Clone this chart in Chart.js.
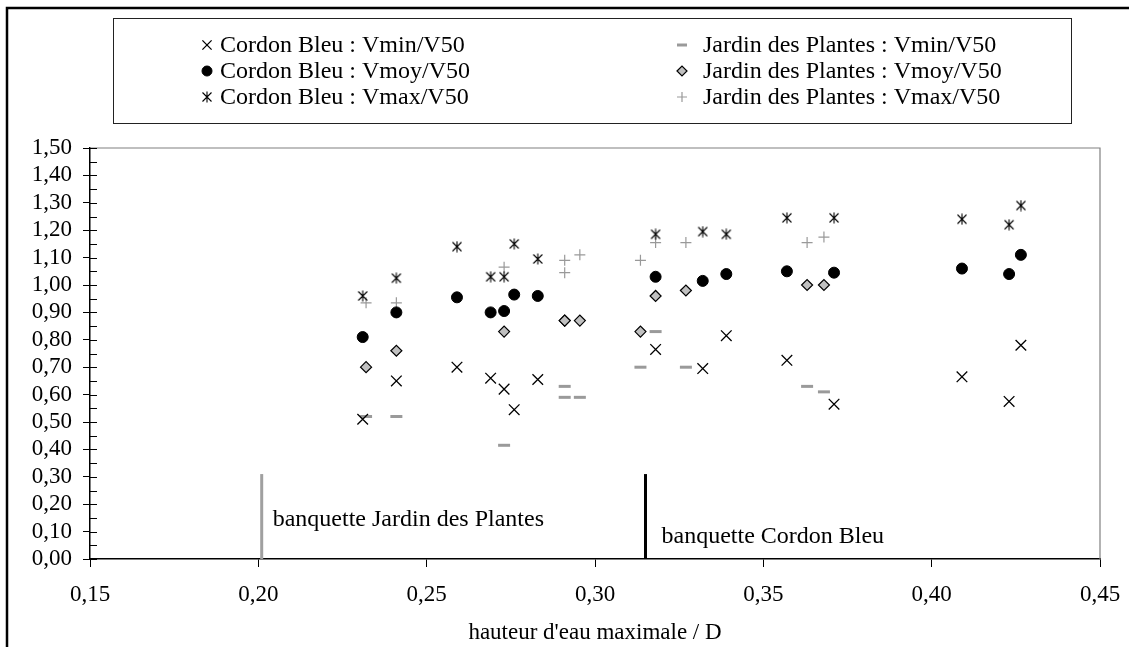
<!DOCTYPE html>
<html>
<head>
<meta charset="utf-8">
<script src="https://cdn.jsdelivr.net/npm/chart.js@4/dist/chart.umd.min.js"></script>
<style>
  body { margin: 0; background: #fff; }
</style>
</head>
<body>
<canvas id="chart" width="1129" height="647"></canvas>
<script>
// Cordon Bleu
const cbX   = [0.231, 0.241, 0.259, 0.269, 0.273, 0.276, 0.283, 0.318, 0.332, 0.339, 0.357, 0.371, 0.409, 0.423, 0.4265];
const cbMin = [0.51, 0.65, 0.70, 0.66, 0.62, 0.545, 0.655, 0.765, 0.695, 0.815, 0.725, 0.565, 0.665, 0.575, 0.78];
const cbMoy = [0.81, 0.90, 0.955, 0.90, 0.905, 0.965, 0.96, 1.03, 1.015, 1.04, 1.05, 1.045, 1.06, 1.04, 1.11];
const cbMax = [0.96, 1.025, 1.14, 1.03, 1.03, 1.15, 1.095, 1.185, 1.195, 1.185, 1.245, 1.245, 1.24, 1.22, 1.29];

// Jardin des Plantes
const jdpX   = [0.232, 0.241, 0.273, 0.291, 0.291, 0.2955, 0.3135, 0.318, 0.327, 0.363, 0.368];
const jdpMin = [0.52, 0.52, 0.415, 0.63, 0.59, 0.59, 0.70, 0.83, 0.70, 0.63, 0.61];
const jdpMoy = [0.70, 0.76, 0.83, 0.87, 0.87, 0.87, 0.83, 0.96, 0.98, 1.00, 1.00];
const jdpMax = [0.935, 0.935, 1.065, 1.09, 1.045, 1.11, 1.09, 1.155, 1.155, 1.155, 1.175];

// banquettes (vertical marks)
const banqJdpX = [0.201, 0.201];
const banqCbX  = [0.315, 0.315];
const banqY    = [0, 0.31];

const labels = [
  'Cordon Bleu : Vmin/V50', 'Cordon Bleu : Vmoy/V50', 'Cordon Bleu : Vmax/V50',
  'Jardin des Plantes : Vmin/V50', 'Jardin des Plantes : Vmoy/V50', 'Jardin des Plantes : Vmax/V50'
];

const pts = (xs, ys) => xs.map((x, i) => ({ x, y: ys[i] }));
const fmt = v => Number(v).toFixed(2).replace('.', ',');
const SERIF = '"Liberation Serif", "Times New Roman", serif';

function asterisk() {
  const c = document.createElement('canvas');
  c.width = 12; c.height = 12;
  const g = c.getContext('2d');
  g.strokeStyle = '#000';
  g.lineWidth = 1.1;
  g.beginPath();
  g.moveTo(6, 0.5); g.lineTo(6, 11.5);
  g.moveTo(1.5, 1.5); g.lineTo(10.5, 10.5);
  g.moveTo(10.5, 1.5); g.lineTo(1.5, 10.5);
  g.stroke();
  return c;
}
const star = asterisk();

Chart.defaults.font.family = SERIF;
Chart.defaults.font.size = 23;
Chart.defaults.color = '#000';

const decor = {
  id: 'decor',
  beforeDraw(chart) {
    const ctx = chart.ctx;
    ctx.save();
    ctx.fillStyle = '#fff';
    ctx.fillRect(0, 0, chart.width, chart.height);
    // outer frame (top and left edges visible)
    ctx.strokeStyle = '#000';
    ctx.lineWidth = 2.5;
    ctx.beginPath();
    ctx.moveTo(7, 647); ctx.lineTo(7, 8); ctx.lineTo(1129, 8);
    ctx.stroke();
    ctx.restore();
  },
  afterDatasetsDraw(chart) {
    const { ctx, chartArea: a, scales: { x, y } } = chart;
    ctx.save();
    // plot frame top / right
    ctx.strokeStyle = '#808080';
    ctx.lineWidth = 1.2;
    ctx.beginPath();
    ctx.moveTo(a.left, a.top); ctx.lineTo(a.right, a.top); ctx.lineTo(a.right, a.bottom);
    ctx.stroke();
    // inner parts of y ticks + minor ticks
    ctx.strokeStyle = '#000';
    ctx.lineWidth = 1;
    ctx.beginPath();
    for (let k = 0; k <= 30; k++) {
      const py = Math.round(y.getPixelForValue(k * 0.05)) + 0.5;
      ctx.moveTo(a.left, py); ctx.lineTo(a.left + 7, py);
    }
    ctx.stroke();
    // banquette labels
    ctx.font = '24px ' + SERIF;
    ctx.fillStyle = '#000';
    ctx.textBaseline = 'middle';
    ctx.fillText('banquette Jardin des Plantes', x.getPixelForValue(banqJdpX[0]) + 11, y.getPixelForValue(0.145));
    ctx.fillText('banquette Cordon Bleu', x.getPixelForValue(banqCbX[0]) + 16, y.getPixelForValue(0.083));
    ctx.restore();
  },
  afterDraw(chart) {
    const ctx = chart.ctx;
    ctx.save();
    // legend box
    ctx.strokeStyle = '#222';
    ctx.lineWidth = 1;
    ctx.strokeRect(113.5, 18.5, 958, 105);
    const rowsY = [45, 71, 97];
    const markX = [207, 682];
    const textX = [220, 703];
    ctx.font = '24px ' + SERIF;
    ctx.textBaseline = 'middle';
    for (let i = 0; i < 6; i++) {
      const ds = chart.data.datasets[i];
      const col = Math.floor(i / 3), row = i % 3;
      ctx.fillStyle = ds.backgroundColor;
      ctx.strokeStyle = ds.borderColor;
      ctx.lineWidth = ds.borderWidth;
      Chart.helpers.drawPoint(ctx, {
        pointStyle: ds.pointStyle,
        radius: ds.legendRadius,
        borderWidth: ds.borderWidth,
        rotation: 0
      }, markX[col], rowsY[row]);
      ctx.fillStyle = '#000';
      ctx.fillText(ds.label, textX[col], rowsY[row] + 1);
    }
    ctx.restore();
  }
};

new Chart(document.getElementById('chart'), {
  type: 'scatter',
  data: {
    datasets: [
      { label: labels[0], data: pts(cbX, cbMin), pointStyle: 'crossRot', pointRadius: 7.5, legendRadius: 6.5,
        borderColor: '#000', backgroundColor: '#000', borderWidth: 1.3 },
      { label: labels[1], data: pts(cbX, cbMoy), pointStyle: 'circle', pointRadius: 5.5, legendRadius: 5,
        borderColor: '#000', backgroundColor: '#000', borderWidth: 1 },
      { label: labels[2], data: pts(cbX, cbMax), pointStyle: star, pointRadius: 6, legendRadius: 6,
        borderColor: '#000', backgroundColor: '#000', borderWidth: 1 },
      { label: labels[3], data: pts(jdpX, jdpMin), pointStyle: 'line', pointRadius: 6, legendRadius: 5,
        borderColor: '#9a9a9a', backgroundColor: '#9a9a9a', borderWidth: 3 },
      { label: labels[4], data: pts(jdpX, jdpMoy), pointStyle: 'rectRot', pointRadius: 5.5, legendRadius: 5,
        borderColor: '#000', backgroundColor: '#c0c0c0', borderWidth: 1.2 },
      { label: labels[5], data: pts(jdpX, jdpMax), pointStyle: 'cross', pointRadius: 5.5, legendRadius: 5,
        borderColor: '#999', backgroundColor: '#999', borderWidth: 1.2 },
      { type: 'line', label: 'banquette Jardin des Plantes', data: pts(banqJdpX, banqY), order: 10,
        borderColor: '#a0a0a0', borderWidth: 3, pointRadius: 0, showLine: true, fill: false },
      { type: 'line', label: 'banquette Cordon Bleu', data: pts(banqCbX, banqY), order: 10,
        borderColor: '#000', borderWidth: 3, pointRadius: 0, showLine: true, fill: false }
    ]
  },
  options: {
    responsive: false,
    animation: false,
    devicePixelRatio: 1,
    layout: { padding: { top: 148, right: 29, left: 0, bottom: 0 } },
    plugins: {
      legend: { display: false },
      tooltip: { enabled: false }
    },
    scales: {
      x: {
        type: 'linear',
        min: 0.15,
        max: 0.45,
        afterFit: s => { s.height = 88; s.paddingRight = 0; s.paddingLeft = 0; },
        ticks: { stepSize: 0.05, autoSkip: false, maxRotation: 0, minRotation: 0,
                 callback: v => fmt(v), padding: 14, font: { size: 23 } },
        grid: { drawOnChartArea: false, tickLength: 8, color: '#000', tickWidth: 1 },
        border: { color: '#000', width: 1.5 },
        title: { display: true, text: "hauteur d'eau maximale / D", font: { size: 23 }, padding: { top: 4, bottom: 0 } }
      },
      y: {
        type: 'linear',
        min: 0,
        max: 1.5,
        afterFit: s => { s.width = 90; s.paddingTop = 0; s.paddingBottom = 0; },
        ticks: { stepSize: 0.1, autoSkip: false, callback: v => fmt(v), padding: 11, font: { size: 23 } },
        grid: { drawOnChartArea: false, tickLength: 7, color: '#000', tickWidth: 1 },
        border: { color: '#000', width: 1.5 }
      }
    }
  },
  plugins: [decor]
});
</script>
</body>
</html>
